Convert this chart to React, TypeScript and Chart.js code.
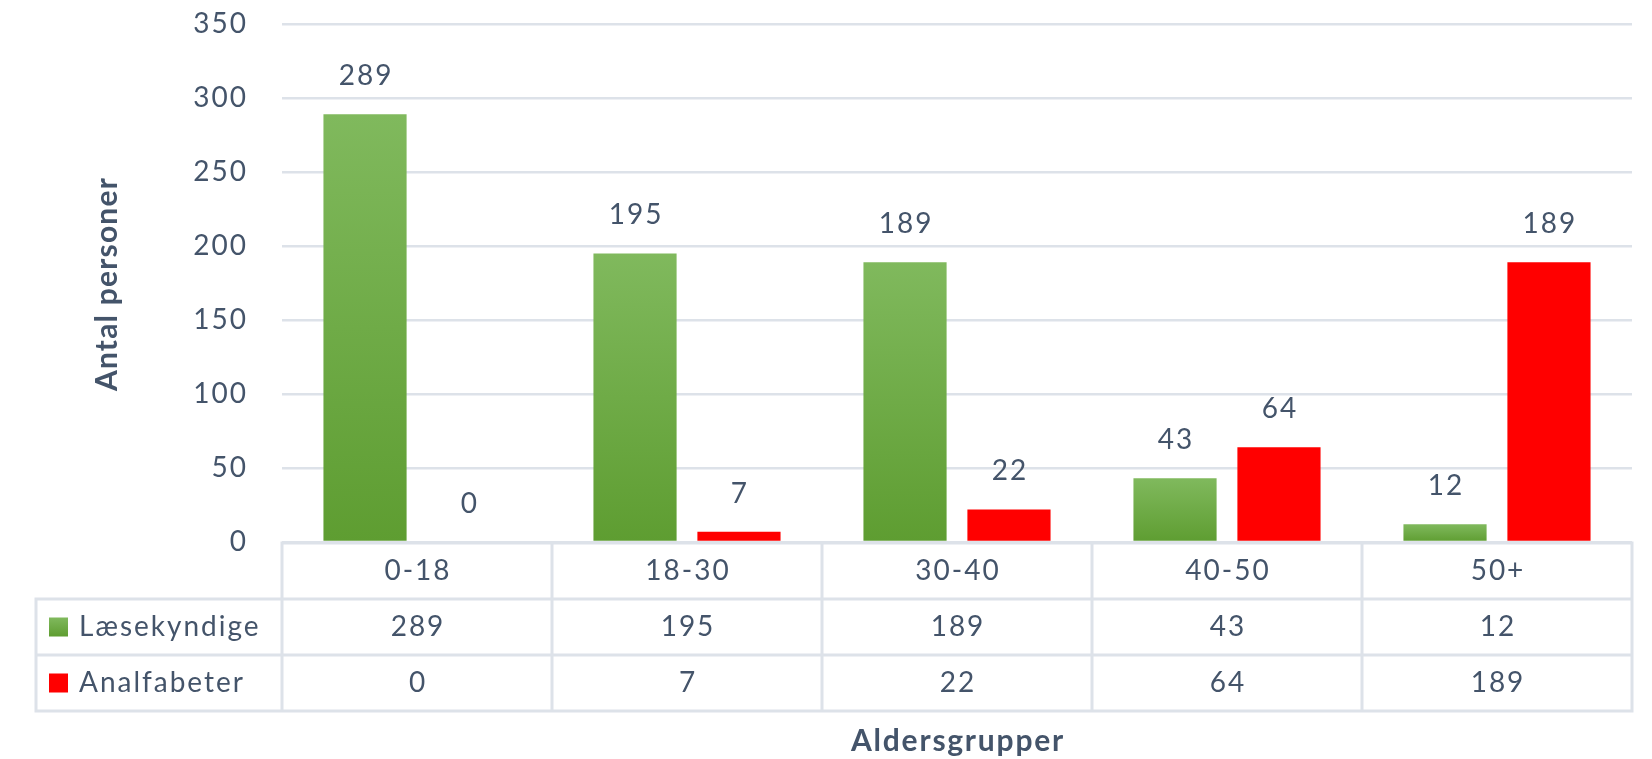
import React, { useEffect, useRef } from "react";
import { Chart, registerables } from "chart.js";

Chart.register(...registerables);

const categories = ["0-18", "18-30", "30-40", "40-50", "50+"];
const laesekyndige = [289, 195, 189, 43, 12];
const analfabeter = [0, 7, 22, 64, 189];
const seriesNames = ["Læsekyndige", "Analfabeter"];
const yTicks = [0, 50, 100, 150, 200, 250, 300, 350];
const xTitle = "Aldersgrupper";
const yTitle = "Antal personer";

const TEXT = "#44546A";
const GRID = "#DDE2E9";
const RED = "#FF0000";
const GREEN_TOP = "#80B95D";
const GREEN_BOTTOM = "#5E9D31";
const FONT = "Lato";
const SPACING = "2px";

function greenGradient(ctx: CanvasRenderingContext2D, top: number, bottom: number) {
  const g = ctx.createLinearGradient(0, top, 0, bottom);
  g.addColorStop(0, GREEN_TOP);
  g.addColorStop(1, GREEN_BOTTOM);
  return g;
}

const tablePlugin = {
  id: "excelTable",
  beforeDraw(chart: any) {
    chart.ctx.letterSpacing = SPACING;
  },
  afterDatasetsDraw(chart: any) {
    const ctx = chart.ctx as CanvasRenderingContext2D;
    ctx.save();
    ctx.letterSpacing = SPACING;
    ctx.fillStyle = TEXT;
    ctx.font = `28px ${FONT}`;
    ctx.textAlign = "center";
    ctx.textBaseline = "middle";
    chart.data.datasets.forEach((ds: any, di: number) => {
      const meta = chart.getDatasetMeta(di);
      meta.data.forEach((el: any, i: number) => {
        ctx.fillText(String(ds.data[i]), el.x + 1, el.y - 38);
      });
    });
    ctx.restore();
  },
  afterDraw(chart: any) {
    const ctx = chart.ctx as CanvasRenderingContext2D;
    const area = chart.chartArea;
    const xs = chart.scales.x;
    const n = categories.length;
    const catW = (area.right - area.left) / n;
    const top = area.bottom + 1;
    const rowH = 56;
    const tableLeft = 36;
    const bottom = top + rowH * 3;

    ctx.save();
    ctx.strokeStyle = GRID;
    ctx.lineWidth = 3;
    ctx.beginPath();
    ctx.moveTo(area.left - 1.5, top);
    ctx.lineTo(area.right + 1.5, top);
    for (let r = 1; r <= 3; r++) {
      ctx.moveTo(tableLeft - 1.5, top + rowH * r);
      ctx.lineTo(area.right + 1.5, top + rowH * r);
    }
    for (let i = 0; i <= n; i++) {
      const x = area.left + catW * i;
      ctx.moveTo(x, top);
      ctx.lineTo(x, bottom);
    }
    ctx.moveTo(tableLeft, top + rowH);
    ctx.lineTo(tableLeft, bottom);
    ctx.stroke();

    ctx.letterSpacing = SPACING;
    ctx.fillStyle = TEXT;
    ctx.font = `28px ${FONT}`;
    ctx.textAlign = "center";
    ctx.textBaseline = "middle";
    const rows = [laesekyndige, analfabeter];
    categories.forEach((c, i) => {
      const cx = xs.getPixelForValue(i) + 1;
      ctx.fillText(c, cx, top + rowH / 2);
      rows.forEach((vals, r) => {
        ctx.fillText(String(vals[i]), cx, top + rowH * (r + 1) + rowH / 2);
      });
    });

    // legend keys in table
    seriesNames.forEach((name, r) => {
      const cy = top + rowH * (r + 1) + rowH / 2;
      const sq = 19;
      ctx.fillStyle = r === 0 ? greenGradient(ctx, cy - sq / 2, cy + sq / 2) : RED;
      ctx.fillRect(49, cy - sq / 2, sq, sq);
      ctx.fillStyle = TEXT;
      ctx.textAlign = "left";
      ctx.fillText(name, 79, cy);
    });

    // axis titles
    ctx.letterSpacing = "1.8px";
    ctx.font = `bold 30px ${FONT}`;
    ctx.textAlign = "center";
    ctx.textBaseline = "alphabetic";
    ctx.fillText(xTitle, (area.left + area.right) / 2 + 1, 751);

    ctx.save();
    ctx.letterSpacing = "1.2px";
    ctx.translate(117, 284);
    ctx.rotate(-Math.PI / 2);
    ctx.font = `bold 30px ${FONT}`;
    ctx.fillText(yTitle, 0, 0);
    ctx.restore();

    ctx.restore();
  },
};

export default function App() {
  const ref = useRef<HTMLCanvasElement | null>(null);

  useEffect(() => {
    if (!ref.current) return;
    const chart = new Chart(ref.current, {
      type: "bar",
      data: {
        labels: categories,
        datasets: [
          {
            label: seriesNames[0],
            data: laesekyndige,
            backgroundColor: (c: any) => {
              const ch = c.chart;
              const ys = ch.scales?.y;
              if (!ys || c.raw === undefined) return GREEN_BOTTOM;
              const t = ys.getPixelForValue(c.raw);
              const b = ys.getPixelForValue(0);
              if (!isFinite(t) || !isFinite(b) || b - t < 1) return GREEN_BOTTOM;
              return greenGradient(ch.ctx, t, b);
            },
            borderWidth: 0,
            barPercentage: 0.8,
            categoryPercentage: 0.77,
          },
          {
            label: seriesNames[1],
            data: analfabeter,
            backgroundColor: RED,
            borderWidth: 0,
            barPercentage: 0.8,
            categoryPercentage: 0.77,
          },
        ],
      },
      options: {
        animation: false,
        responsive: true,
        maintainAspectRatio: false,
        devicePixelRatio: 1,
        layout: { padding: { left: 0, right: 20, top: 24, bottom: 217 } },
        plugins: {
          legend: { display: false },
          tooltip: { enabled: false },
          title: { display: false },
        },
        scales: {
          x: {
            type: "category",
            grid: { display: false },
            border: { display: false },
            ticks: { display: false },
            afterFit: (s: any) => {
              s.height = 0;
              s.paddingLeft = 0;
              s.paddingRight = 0;
            },
          },
          y: {
            min: 0,
            max: 350,
            afterBuildTicks: (s: any) => {
              s.ticks = yTicks.map((v) => ({ value: v }));
            },
            ticks: {
              padding: 34,
              color: TEXT,
              font: { family: FONT, size: 28 },
            },
            grid: { color: GRID, lineWidth: 2.5, drawTicks: false },
            border: { display: false },
            afterFit: (s: any) => {
              s.width = 282;
              s.paddingTop = 0;
              s.paddingBottom = 0;
            },
          },
        },
      },
      plugins: [tablePlugin],
    });
    return () => chart.destroy();
  }, []);

  return (
    <div
      style={{
        position: "fixed",
        left: 0,
        top: 0,
        width: 1652,
        height: 759,
        background: "#fff",
      }}
    >
      <canvas ref={ref} />
    </div>
  );
}
